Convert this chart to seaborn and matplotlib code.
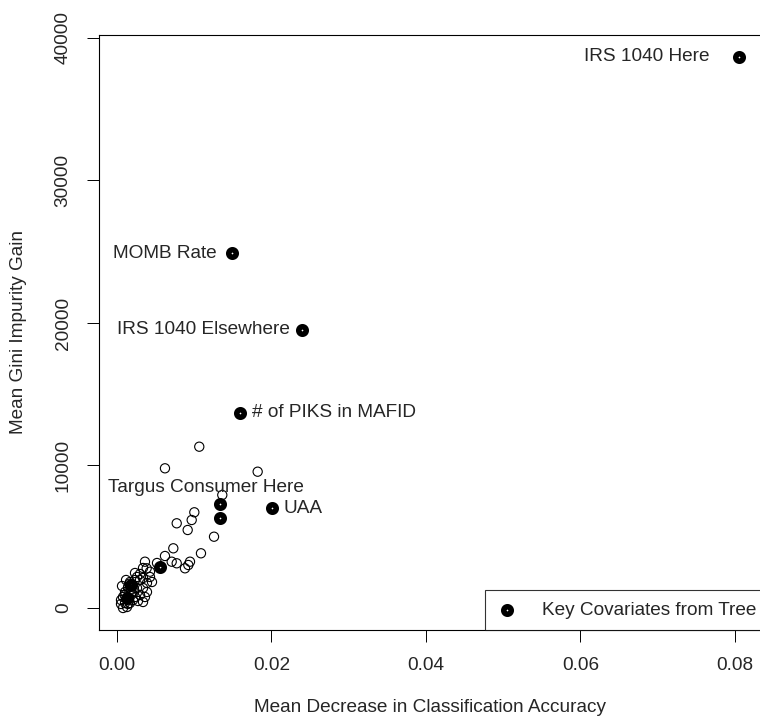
import pandas as pd
import matplotlib
matplotlib.use("Agg")
import matplotlib.pyplot as plt
import seaborn as sns

# variable importance from the random forest
# other covariates (open circles)
acc_other = [0.01065, 0.00621, 0.01821, 0.01363, 0.01001, 0.00967, 0.00773, 0.00915,
             0.01256, 0.01087, 0.00729, 0.00621, 0.00708, 0.00773, 0.00945, 0.00923,
             0.00880, 0.00362, 0.00384, 0.00427, 0.00518, 0.00337, 0.00259, 0.00298,
             0.00337, 0.00388, 0.00168, 0.00207, 0.00142, 0.00259, 0.00337, 0.00388,
             0.00194, 0.00298, 0.00362, 0.00104, 0.00078, 0.00142, 0.00207, 0.00104,
             0.00168, 0.00129, 0.00078, 0.00337, 0.00052, 0.00233, 0.00146,
             0.00233, 0.00298, 0.00427, 0.00453, 0.00117, 0.00065, 0.00220, 0.00272,
             0.00142, 0.00052, 0.00233, 0.00181, 0.00100, 0.00160]
gini_other = [11319, 9803, 9565, 7930, 6716, 6175, 5944, 5474,
              5003, 3839, 4189, 3649, 3249, 3137, 3249, 3017,
              2786, 3249, 2786, 2547, 3158, 2807, 2175, 1965,
              2105, 1754, 1825, 1614, 1404, 1404, 1404, 1123,
              1053, 912, 772, 1123, 772, 702, 561, 351,
              351, 70, 0, 421, 281, 1965, 1497,
              2456, 2386, 2175, 1825, 1965, 1544, 1123, 491,
              281, 561, 772, 1263, 900, 1700]

# key covariates from the tree (filled)
acc_key = [0.08052, 0.01493, 0.02399, 0.01592, 0.02003, 0.01333, 0.01333, 0.00557, 0.00181, 0.00129]
gini_key = [38667, 24891, 19509, 13705, 6996, 7298, 6295, 2877, 1614, 702]

df_other = pd.DataFrame({"acc": acc_other, "gini": gini_other})
df_key = pd.DataFrame({"acc": acc_key, "gini": gini_key})

sns.set_style("white")
plt.rcParams["font.family"] = ["Liberation Sans", "DejaVu Sans"]
fs = 13.7

fig = plt.figure(figsize=(7.6, 7.19), dpi=100)
ax = fig.add_axes([99 / 760, 89 / 719, 663 / 760, 595 / 719])

sns.scatterplot(data=df_key, x="acc", y="gini", ax=ax, marker="o", s=29,
                facecolor="white", edgecolor="black", linewidth=4.0, zorder=2,
                label="Key Covariates from Tree")
sns.scatterplot(data=df_other, x="acc", y="gini", ax=ax, marker="o", s=44,
                facecolor="none", edgecolor="black", linewidth=0.8, zorder=3)

# labels next to the key covariates
def lab(i, txt, dx, dy, ha):
    ax.annotate(txt, (acc_key[i], gini_key[i]), xytext=(dx, dy), textcoords="offset pixels",
                ha=ha, va="center", fontsize=fs)

lab(0, "IRS 1040 Here", -29, 0, "right")
lab(1, "MOMB Rate", -16, 0, "right")
lab(2, "IRS 1040 Elsewhere", -12, 0, "right")
lab(3, "# of PIKS in MAFID", 12, 0, "left")
lab(4, "UAA", 12, 0, "left")
lab(5, "Targus Consumer Here", -14, 17, "center")

ax.set_xlim(-0.00233, 0.0835)
ax.set_ylim(-1544, 40210)
ax.set_xticks([0.00, 0.02, 0.04, 0.06, 0.08])
ax.set_xticklabels(["0.00", "0.02", "0.04", "0.06", "0.08"])
ax.set_yticks([0, 10000, 20000, 30000, 40000])
ax.set_yticklabels(["0", "10000", "20000", "30000", "40000"], rotation=90, va="center")
ax.tick_params(axis="both", direction="out", length=8.6, width=0.7, color="black",
               labelsize=fs, bottom=True, left=True)
ax.tick_params(axis="x", pad=11)
ax.tick_params(axis="y", pad=11)

for sp in ax.spines.values():
    sp.set_color("black")
    sp.set_linewidth(0.8)

ax.set_xlabel("Mean Decrease in Classification Accuracy", fontsize=fs)
ax.set_ylabel("Mean Gini Impurity Gain", fontsize=fs)
ax.xaxis.set_label_coords(0.5, -77 / 595)
ax.yaxis.set_label_coords(-80 / 663, 0.5)
ax.xaxis.label.set_va("center")
ax.yaxis.label.set_va("center")

leg = ax.legend(loc="lower right", bbox_to_anchor=(1 + 6 / 663, 0), borderaxespad=0,
                fontsize=fs, frameon=True, fancybox=False, edgecolor="black",
                borderpad=0.6, handlelength=1.12, handletextpad=1.31)
leg.get_frame().set_linewidth(0.8)

fig.savefig("out.png", dpi=100)
